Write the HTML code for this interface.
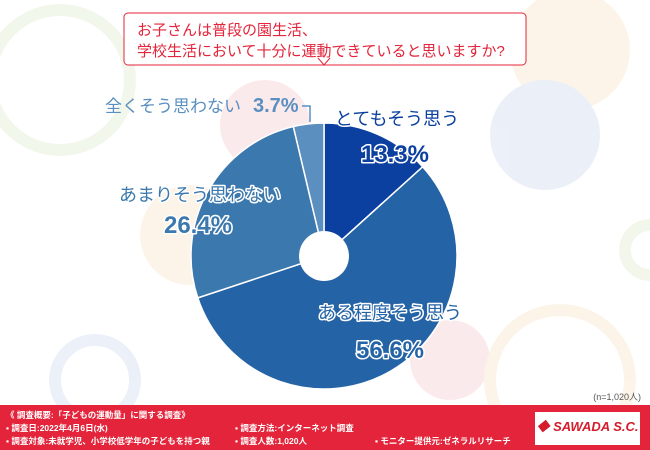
<!DOCTYPE html>
<html><head><meta charset="utf-8"><style>
body{margin:0;width:650px;height:450px;overflow:hidden;background:#fff;font-family:"Liberation Sans","Noto Sans CJK JP",sans-serif}
#c{position:absolute;left:0;top:0}
.ft{position:absolute;left:0;top:405px;width:650px;height:45px;background:#e3243a;color:#fff;font-size:8.5px;font-weight:bold}
.ft div{position:absolute;white-space:nowrap}
.logo{position:absolute;left:535px;top:412px;width:105px;height:33px;background:#fff;color:#d41c2c;font-weight:bold;font-style:italic;font-size:13px;text-align:center;line-height:30px}
#labels text{paint-order:stroke;stroke:#fff;stroke-linejoin:round}
</style></head><body>
<svg id="c" width="650" height="450">
<g opacity="0.35" fill="none" stroke-width="12">
<circle cx="60" cy="80" r="70" stroke="#dbe8c8"/>
<circle cx="570" cy="50" r="60" fill="#f8e2bf" stroke="none"/>
<circle cx="545" cy="135" r="55" fill="#c8d4ea" stroke="none"/>
<circle cx="265" cy="125" r="45" fill="#f4c4c8" stroke="none"/>
<circle cx="190" cy="235" r="50" fill="#f8e2bf" stroke="none"/>
<circle cx="95" cy="380" r="40" stroke="#c8d4ea"/>
<circle cx="450" cy="360" r="40" fill="#f4c4c8" stroke="none"/>
<circle cx="560" cy="380" r="70" stroke="#f8e2bf"/>
<circle cx="650" cy="250" r="25" stroke="#dbe8c8"/>
</g>
<g id="pie"></g>
<rect x="124" y="13" width="402" height="52" rx="4" fill="#fff" stroke="#e3243a" stroke-width="1"/>
<polyline points="318,58 324,65 330,58" fill="#fff" stroke="#e3243a"/>
<text x="137" y="35" fill="#e3243a" font-size="15">お子さんは普段の園生活、</text>
<text x="137" y="56" fill="#e3243a" font-size="15">学校生活において十分に運動できていると思いますか?</text>
<polyline points="302,106 310,106 310,122" fill="none" stroke="#5a90c4" stroke-width="1.5"/>
<g id="labels"></g>
<text x="641" y="400" fill="#555" font-size="9" text-anchor="end">(n=1,020人)</text>
</svg>
<div class="ft">
<div style="left:6px;top:4px">《 調査概要:「子どもの運動量」に関する調査》</div>
<div style="left:6px;top:17px">▪ 調査日:2022年4月6日(水)</div>
<div style="left:6px;top:30px">▪ 調査対象:未就学児、小学校低学年の子どもを持つ親</div>
<div style="left:235px;top:17px">▪ 調査方法:インターネット調査</div>
<div style="left:235px;top:30px">▪ 調査人数:1,020人</div>
<div style="left:375px;top:30px">▪ モニター提供元:ゼネラルリサーチ</div>
</div>
<div class="logo">◆ SAWADA S.C.</div>
<script>
const categories=["とてもそう思う","ある程度そう思う","あまりそう思わない","全くそう思わない"];
const values=[13.3,56.6,26.4,3.7];
const colors=["#0b40a0","#2463a5","#3b78ad","#5a8fc0"];
const cx=324,cy=256,r=133,ri=25;
const g=document.getElementById('pie');
const tot=values.reduce((a,b)=>a+b,0);
let a0=-Math.PI/2;
const pt=(a,rr)=>[cx+rr*Math.cos(a),cy+rr*Math.sin(a)];
values.forEach((v,i)=>{
 const a1=a0+v/tot*2*Math.PI;
 const [x0,y0]=pt(a0,r),[x1,y1]=pt(a1,r);
 const p=document.createElementNS('http://www.w3.org/2000/svg','path');
 p.setAttribute('d',`M${cx},${cy}L${x0},${y0}A${r},${r} 0 ${a1-a0>Math.PI?1:0} 1 ${x1},${y1}Z`);
 p.setAttribute('fill',colors[i]);p.setAttribute('stroke','#fff');p.setAttribute('stroke-width','1.5');
 
 
 g.appendChild(p);a0=a1;
});
const h=document.createElementNS('http://www.w3.org/2000/svg','circle');
h.setAttribute('cx',cx);h.setAttribute('cy',cy);h.setAttribute('r',ri);h.setAttribute('fill','#fff');
g.appendChild(h);
const L=document.getElementById('labels');
const pos=[[397,125,395,162],[390,319,390,358],[200,201,198,233],[105,112,null,null]];
function t(x,y,s,fs,fill,anc,nm,sw){const e=document.createElementNS('http://www.w3.org/2000/svg','text');
 e.setAttribute('x',x);e.setAttribute('y',y);e.setAttribute('font-size',fs);e.setAttribute('fill',fill);e.setAttribute('text-anchor',anc);
 e.setAttribute('stroke-width',sw);
 
 
 e.textContent=s;L.appendChild(e);return e;}
categories.forEach((c,i)=>{const p=pos[i];
 if(p[2]===null){t(p[0],p[1],c+' ','17',colors[i],'start','label-'+i,0);
  const e=t(253,p[1],values[i].toFixed(1)+'%','20',colors[i],'start','value-'+i,0);e.setAttribute('font-weight','bold');}
 else{t(p[0],p[1],c,'18',colors[i],'middle','label-'+i,3);
  const e=t(p[2],p[3],values[i].toFixed(1)+'%','24',colors[i],'middle','value-'+i,3);e.setAttribute('font-weight','bold');}
});
</script>
</body></html>
